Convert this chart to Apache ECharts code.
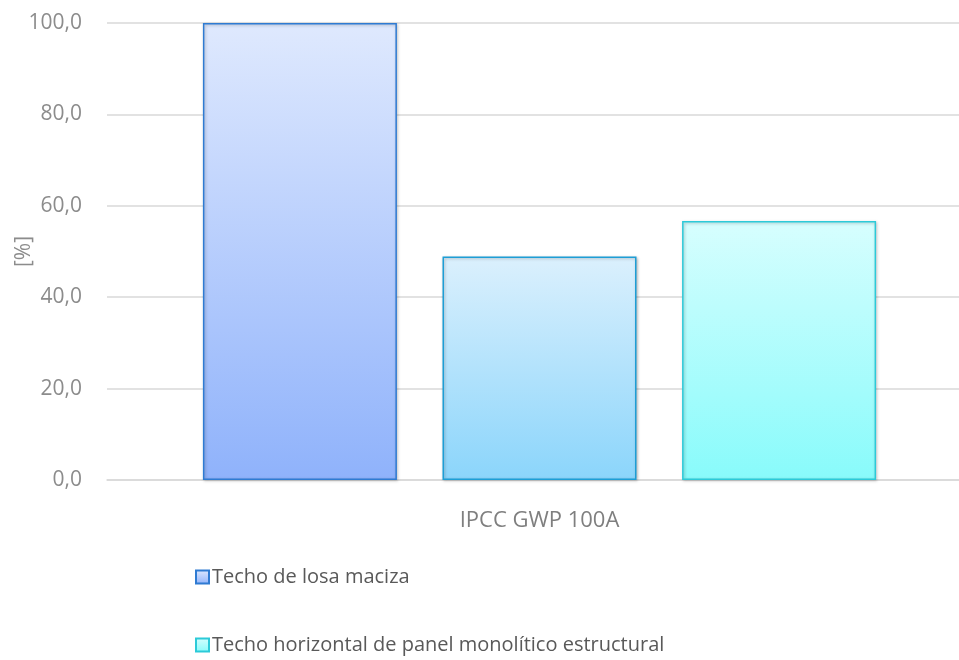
<!DOCTYPE html>
<html><head><meta charset="utf-8">
<script src="https://cdn.jsdelivr.net/npm/echarts@6/dist/echarts.min.js"></script>
<style>html,body{margin:0;padding:0;background:#fff}#c{width:959px;height:660px}</style>
</head><body><div id="c"></div>
<script>
const categories = ['IPCC GWP 100A'];
const seriesNames = ['Techo de losa maciza', 'Techo de losa aligerada', 'Techo horizontal de panel monolítico estructural'];
const legendShown = ['Techo de losa maciza', 'Techo horizontal de panel monolítico estructural'];
const values1 = [100.0];
const values2 = [48.9];
const values3 = [56.7];
const yTicks = [0, 20, 40, 60, 80, 100];

const grads = [
  ['#dfe9fe', '#8fb2fb', '#2f7bd2'],
  ['#dbf0fd', '#8bd5fb', '#1d9ed6'],
  ['#d7fefe', '#88fbfb', '#2ccad8']
];
function mk(name, data, g) {
  return {
    name: name, type: 'bar', data: data, barWidth: 194, barGap: '23.5%',
    itemStyle: {
      color: {type: 'linear', x: 0, y: 0, x2: 0, y2: 1,
        colorStops: [{offset: 0, color: g[0]}, {offset: 1, color: g[1]}]},
      borderColor: g[2], borderWidth: 1.5,
      shadowColor: 'rgba(0,0,0,0.25)', shadowBlur: 3, shadowOffsetX: 1, shadowOffsetY: 1
    }
  };
}
const chart = echarts.init(document.getElementById('c'), null, {renderer: 'canvas'});
chart.setOption({
  animation: false,
  grid: {left: 107, top: 23, width: 865, height: 457, containLabel: false, outerBoundsMode: 'none'},
  legend: {
    data: legendShown, orient: 'vertical', left: 195, top: 567, itemGap: 48, padding: 0,
    itemWidth: 13, itemHeight: 13, icon: 'rect',
    textStyle: {fontFamily: 'Open Sans', fontSize: 20, lineHeight: 20, color: '#595959', padding: [0,0,0,-2]}
  },
  xAxis: {
    type: 'category', data: categories,
    axisLine: {lineStyle: {color: '#d9d9d9', width: 1.5}}, axisTick: {show: false},
    axisLabel: {fontFamily: 'Open Sans', fontSize: 22, color: '#7f7f7f', margin: 30,
      formatter: v => v}
  },
  yAxis: {
    type: 'value', min: 0, max: 100, interval: 20,
    name: '[%]', nameLocation: 'middle', nameGap: 72, nameRotate: 90, nameMoveOverlap: false,
    nameTextStyle: {fontFamily: 'Open Sans', fontSize: 21, color: '#8c8c8c'},
    axisLine: {show: false}, axisTick: {show: false},
    splitLine: {lineStyle: {color: '#d9d9d9', width: 1.5}},
    axisLabel: {fontFamily: 'Open Sans', fontSize: 21, color: '#8c8c8c', margin: 25,
      formatter: v => yTicks.includes(v) ? v.toFixed(1).replace('.', ',') : ''}
  },
  series: [mk(seriesNames[0], values1, grads[0]), mk(seriesNames[1], values2, grads[1]), mk(seriesNames[2], values3, grads[2])]
});
</script></body></html>
